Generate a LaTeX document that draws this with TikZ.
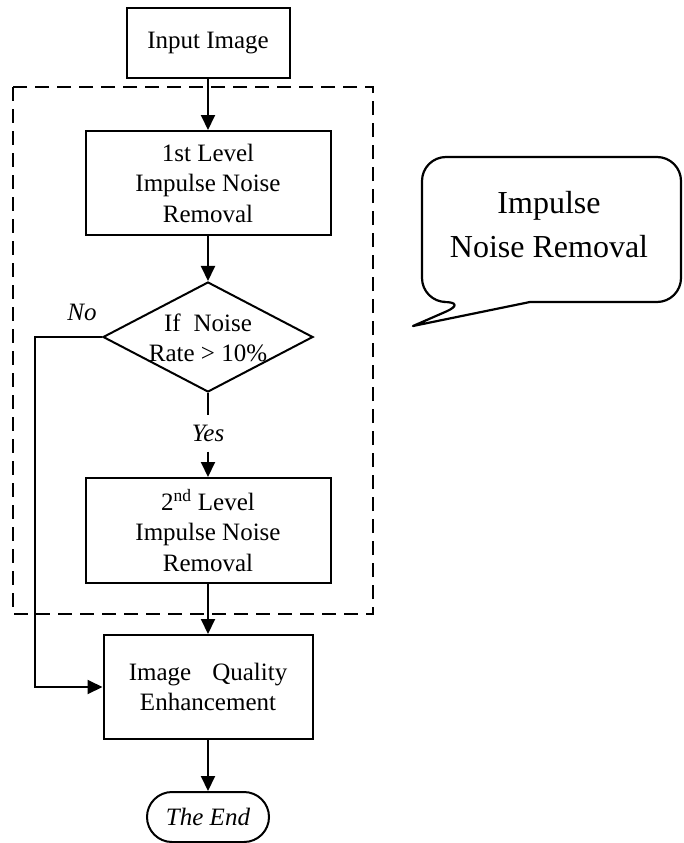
\documentclass[tikz,border=0pt]{standalone}
\usepackage{fontspec}
\setmainfont{Liberation Serif}
\usetikzlibrary{shapes.geometric,arrows.meta}

\begin{document}
\begin{tikzpicture}[x=1pt,y=-1pt,
  line width=2pt,
  every node/.style={font=\fontsize{25}{30.5}\selectfont, align=center, inner sep=0pt},
  box/.style={draw, rectangle, line width=2pt},
  tag/.style={font=\fontsize{25}{30.5}\selectfont\itshape},
  flow/.style={-{Triangle[length=15pt,width=14pt]}, line width=2pt},
  groupframe/.style={line width=2pt, dash pattern=on 14pt off 8pt},
  bubble/.style={line width=2.2pt, line join=round}
]
\useasboundingbox (0,0) rectangle (683,843);

% group frame around the two removal stages
\draw[groupframe] (13,87) rectangle (373,614);

% flow chart nodes
\node[box, minimum width=163pt, minimum height=70pt] (input) at (208,43) {Input Image};
\node[box, minimum width=245pt, minimum height=104pt] (lvl1) at (208,183) {1st Level\\Impulse Noise\\Removal};
\node[draw, diamond, minimum width=210pt, minimum height=110pt] (dec) at (208,337) {};
\node (dectext) at (208,338) {If\hspace{13pt}Noise\\Rate > 10\%};
\node[tag, minimum height=35pt] (yes) at (208,433) {Yes};
\node[box, minimum width=245pt, minimum height=105pt] (lvl2) at (208,530.5) {2\textsuperscript{nd} Level\\Impulse Noise\\Removal};
\node[box, minimum width=209pt, minimum height=104pt] (iqe) at (208,687) {Image\hspace{21pt}Quality\\Enhancement};
\node[draw, rounded corners=25pt, minimum width=122pt, minimum height=50pt] (end) at (208,817) {\itshape The End};
\node[tag] (no) at (82,312) {No};
\coordinate (nobend) at (35,687);

% connectors
\draw[flow] (input) -- (lvl1);
\draw[flow] (lvl1) -- (dec);
\draw (dec) -- (yes);
\draw[flow] (yes) -- (lvl2);
\draw[flow] (lvl2) -- (iqe);
\draw[flow] (dec.west) -| (nobend) -- (iqe.west);
\draw[flow] (iqe) -- (end);

% speech bubble with its pointer
\draw[bubble] (413,326) -- (530,302) [rounded corners=24pt] -- (681,302) -- (681,157) -- (422,157) -- (422,302) -- (468,302) [sharp corners] -- cycle;
\node[font=\fontsize{32}{44}\selectfont] (bubbletext) at (549,225) {Impulse\\Noise Removal};
\end{tikzpicture}
\end{document}
